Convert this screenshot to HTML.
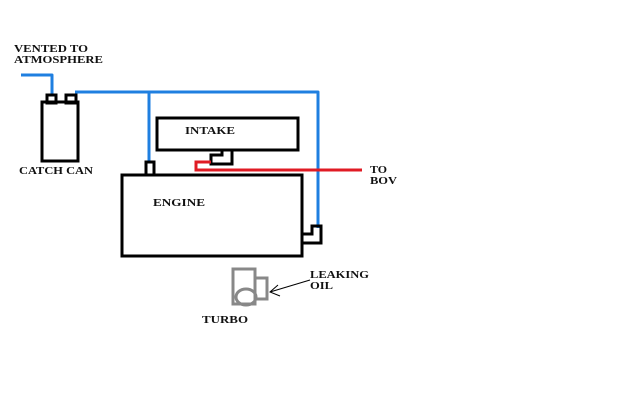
<!DOCTYPE html>
<html><head><style>
html,body{margin:0;padding:0;background:#fff;width:639px;height:419px;overflow:hidden}
text{font-family:"Liberation Serif",serif;font-weight:bold;font-size:10px;fill:#111}
</style></head><body>
<svg width="639" height="419" viewBox="0 0 639 419" xmlns="http://www.w3.org/2000/svg">
<rect width="639" height="419" fill="#fff"/>
<text x="14" y="52" textLength="74" lengthAdjust="spacingAndGlyphs">VENTED TO</text>
<text x="14" y="63" textLength="89" lengthAdjust="spacingAndGlyphs">ATMOSPHERE</text>
<g fill="none" stroke="#1f7fe0" stroke-width="3" stroke-linejoin="round">
<polyline points="21,75 52,75 52,95"/>
<polyline points="75,92 318,92 318,228"/>
<line x1="149" y1="92" x2="149" y2="163"/>
</g>
<g fill="none" stroke="#000" stroke-width="3">
<rect x="42" y="102" width="36" height="59"/>
<rect x="47" y="95" width="9" height="8"/>
<rect x="66" y="95" width="10" height="8"/>
<rect x="146" y="162" width="8" height="13"/>
<rect x="122" y="175" width="180" height="81"/>
<rect x="157" y="118" width="141" height="32"/>
<polyline points="222,151 222,155 211,155 211,164 232,164 232,151"/>
<polyline points="302,234 312,234 312,226 321,226 321,243 302,243"/>
</g>
<text x="19" y="174" textLength="74" lengthAdjust="spacingAndGlyphs">CATCH CAN</text>
<text x="185" y="134" textLength="50" lengthAdjust="spacingAndGlyphs">INTAKE</text>
<text x="153" y="206" textLength="52" lengthAdjust="spacingAndGlyphs">ENGINE</text>
<g fill="none" stroke="#e01b24" stroke-width="3">
<polyline points="211,162 196,162 196,170 362,170"/>
</g>
<text x="370" y="173" textLength="17" lengthAdjust="spacingAndGlyphs">TO</text>
<text x="370" y="184" textLength="27" lengthAdjust="spacingAndGlyphs">BOV</text>
<g fill="none" stroke="#888" stroke-width="3">
<rect x="233" y="269" width="22" height="35"/>
<rect x="255" y="278" width="12" height="21"/>
<ellipse cx="246" cy="297" rx="10" ry="8"/>
</g>
<line x1="310" y1="280" x2="270" y2="292" stroke="#000" stroke-width="1"/>
<polyline points="278,285 270,292 280,296" fill="none" stroke="#000" stroke-width="1"/>
<text x="310" y="278" textLength="59" lengthAdjust="spacingAndGlyphs">LEAKING</text>
<text x="310" y="289" textLength="23" lengthAdjust="spacingAndGlyphs">OIL</text>
<text x="202" y="323" textLength="46" lengthAdjust="spacingAndGlyphs">TURBO</text>
</svg>
</body></html>
